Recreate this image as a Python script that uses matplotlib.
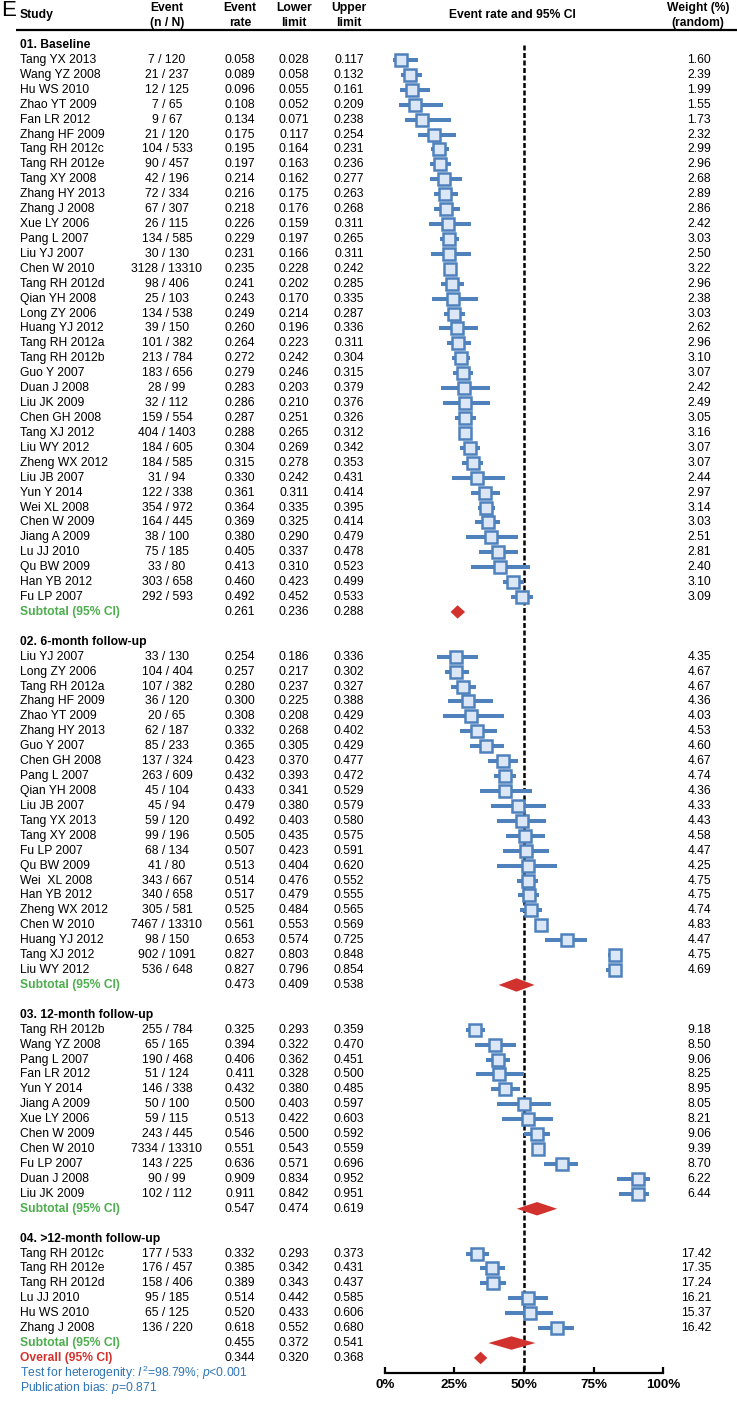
import matplotlib
matplotlib.use("Agg")
import matplotlib.pyplot as plt

plt.rcParams['font.family'] = ['Liberation Sans', 'DejaVu Sans']
plt.rcParams['mathtext.fontset'] = 'custom'
plt.rcParams['mathtext.rm'] = 'Liberation Sans'
plt.rcParams['mathtext.it'] = 'Liberation Sans:italic'

# ---- data ----
group_titles = ["01. Baseline", "02. 6-month follow-up", "03. 12-month follow-up", "04. >12-month follow-up"]

names_base = ["Tang YX 2013", "Wang YZ 2008", "Hu WS 2010", "Zhao YT 2009", "Fan LR 2012", "Zhang HF 2009",
              "Tang RH 2012c", "Tang RH 2012e", "Tang XY 2008", "Zhang HY 2013", "Zhang J 2008", "Xue LY 2006",
              "Pang L 2007", "Liu YJ 2007", "Chen W 2010", "Tang RH 2012d", "Qian YH 2008", "Long ZY 2006",
              "Huang YJ 2012", "Tang RH 2012a", "Tang RH 2012b", "Guo Y 2007", "Duan J 2008", "Liu JK 2009",
              "Chen GH 2008", "Tang XJ 2012", "Liu WY 2012", "Zheng WX 2012", "Liu JB 2007", "Yun Y 2014",
              "Wei XL 2008", "Chen W 2009", "Jiang A 2009", "Lu JJ 2010", "Qu BW 2009", "Han YB 2012", "Fu LP 2007"]
n_base = [7, 21, 12, 7, 9, 21, 104, 90, 42, 72, 67, 26, 134, 30, 3128, 98, 25, 134, 39, 101, 213, 183, 28, 32,
          159, 404, 184, 184, 31, 122, 354, 164, 38, 75, 33, 303, 292]
N_base = [120, 237, 125, 65, 67, 120, 533, 457, 196, 334, 307, 115, 585, 130, 13310, 406, 103, 538, 150, 382, 784,
          656, 99, 112, 554, 1403, 605, 585, 94, 338, 972, 445, 100, 185, 80, 658, 593]
rate_base = [0.058, 0.089, 0.096, 0.108, 0.134, 0.175, 0.195, 0.197, 0.214, 0.216, 0.218, 0.226, 0.229, 0.231,
             0.235, 0.241, 0.243, 0.249, 0.260, 0.264, 0.272, 0.279, 0.283, 0.286, 0.287, 0.288, 0.304, 0.315,
             0.330, 0.361, 0.364, 0.369, 0.380, 0.405, 0.413, 0.460, 0.492]
low_base = [0.028, 0.058, 0.055, 0.052, 0.071, 0.117, 0.164, 0.163, 0.162, 0.175, 0.176, 0.159, 0.197, 0.166,
            0.228, 0.202, 0.170, 0.214, 0.196, 0.223, 0.242, 0.246, 0.203, 0.210, 0.251, 0.265, 0.269, 0.278,
            0.242, 0.311, 0.335, 0.325, 0.290, 0.337, 0.310, 0.423, 0.452]
up_base = [0.117, 0.132, 0.161, 0.209, 0.238, 0.254, 0.231, 0.236, 0.277, 0.263, 0.268, 0.311, 0.265, 0.311,
           0.242, 0.285, 0.335, 0.287, 0.336, 0.311, 0.304, 0.315, 0.379, 0.376, 0.326, 0.312, 0.342, 0.353,
           0.431, 0.414, 0.395, 0.414, 0.479, 0.478, 0.523, 0.499, 0.533]
w_base = [1.60, 2.39, 1.99, 1.55, 1.73, 2.32, 2.99, 2.96, 2.68, 2.89, 2.86, 2.42, 3.03, 2.50, 3.22, 2.96, 2.38,
          3.03, 2.62, 2.96, 3.10, 3.07, 2.42, 2.49, 3.05, 3.16, 3.07, 3.07, 2.44, 2.97, 3.14, 3.03, 2.51, 2.81,
          2.40, 3.10, 3.09]

names_6m = ["Liu YJ 2007", "Long ZY 2006", "Tang RH 2012a", "Zhang HF 2009", "Zhao YT 2009", "Zhang HY 2013",
            "Guo Y 2007", "Chen GH 2008", "Pang L 2007", "Qian YH 2008", "Liu JB 2007", "Tang YX 2013",
            "Tang XY 2008", "Fu LP 2007", "Qu BW 2009", "Wei  XL 2008", "Han YB 2012", "Zheng WX 2012",
            "Chen W 2010", "Huang YJ 2012", "Tang XJ 2012", "Liu WY 2012"]
n_6m = [33, 104, 107, 36, 20, 62, 85, 137, 263, 45, 45, 59, 99, 68, 41, 343, 340, 305, 7467, 98, 902, 536]
N_6m = [130, 404, 382, 120, 65, 187, 233, 324, 609, 104, 94, 120, 196, 134, 80, 667, 658, 581, 13310, 150, 1091, 648]
rate_6m = [0.254, 0.257, 0.280, 0.300, 0.308, 0.332, 0.365, 0.423, 0.432, 0.433, 0.479, 0.492, 0.505, 0.507,
           0.513, 0.514, 0.517, 0.525, 0.561, 0.653, 0.827, 0.827]
low_6m = [0.186, 0.217, 0.237, 0.225, 0.208, 0.268, 0.305, 0.370, 0.393, 0.341, 0.380, 0.403, 0.435, 0.423,
          0.404, 0.476, 0.479, 0.484, 0.553, 0.574, 0.803, 0.796]
up_6m = [0.336, 0.302, 0.327, 0.388, 0.429, 0.402, 0.429, 0.477, 0.472, 0.529, 0.579, 0.580, 0.575, 0.591,
         0.620, 0.552, 0.555, 0.565, 0.569, 0.725, 0.848, 0.854]
w_6m = [4.35, 4.67, 4.67, 4.36, 4.03, 4.53, 4.60, 4.67, 4.74, 4.36, 4.33, 4.43, 4.58, 4.47, 4.25, 4.75, 4.75,
        4.74, 4.83, 4.47, 4.75, 4.69]

names_12m = ["Tang RH 2012b", "Wang YZ 2008", "Pang L 2007", "Fan LR 2012", "Yun Y 2014", "Jiang A 2009",
             "Xue LY 2006", "Chen W 2009", "Chen W 2010", "Fu LP 2007", "Duan J 2008", "Liu JK 2009"]
n_12m = [255, 65, 190, 51, 146, 50, 59, 243, 7334, 143, 90, 102]
N_12m = [784, 165, 468, 124, 338, 100, 115, 445, 13310, 225, 99, 112]
rate_12m = [0.325, 0.394, 0.406, 0.411, 0.432, 0.500, 0.513, 0.546, 0.551, 0.636, 0.909, 0.911]
low_12m = [0.293, 0.322, 0.362, 0.328, 0.380, 0.403, 0.422, 0.500, 0.543, 0.571, 0.834, 0.842]
up_12m = [0.359, 0.470, 0.451, 0.500, 0.485, 0.597, 0.603, 0.592, 0.559, 0.696, 0.952, 0.951]
w_12m = [9.18, 8.50, 9.06, 8.25, 8.95, 8.05, 8.21, 9.06, 9.39, 8.70, 6.22, 6.44]

names_gt12 = ["Tang RH 2012c", "Tang RH 2012e", "Tang RH 2012d", "Lu JJ 2010", "Hu WS 2010", "Zhang J 2008"]
n_gt12 = [177, 176, 158, 95, 65, 136]
N_gt12 = [533, 457, 406, 185, 125, 220]
rate_gt12 = [0.332, 0.385, 0.389, 0.514, 0.520, 0.618]
low_gt12 = [0.293, 0.342, 0.343, 0.442, 0.433, 0.552]
up_gt12 = [0.373, 0.431, 0.437, 0.585, 0.606, 0.680]
w_gt12 = [17.42, 17.35, 17.24, 16.21, 15.37, 16.42]

subtotals = [(0.261, 0.236, 0.288), (0.473, 0.409, 0.538), (0.547, 0.474, 0.619), (0.455, 0.372, 0.541)]
overall = (0.344, 0.320, 0.368)

tick_vals = [0, 0.25, 0.5, 0.75, 1.0]
tick_labels = ["0%", "25%", "50%", "75%", "100%"]

groups = [
    (names_base, n_base, N_base, rate_base, low_base, up_base, w_base),
    (names_6m, n_6m, N_6m, rate_6m, low_6m, up_6m, w_6m),
    (names_12m, n_12m, N_12m, rate_12m, low_12m, up_12m, w_12m),
    (names_gt12, n_gt12, N_gt12, rate_gt12, low_gt12, up_gt12, w_gt12),
]

# ---- layout ----
W, H = 737, 1402
Y0, PITCH = 45.0, 14.92
def py(r):
    return Y0 + PITCH * r

FS = 8.7
BLUE = "#4f81bd"
FACE = "#dbe7f6"
RED = "#d2322d"
GREEN = "#4cae4c"
TXTBLUE = "#2e75b6"
X_NAME, X_EV, X_RATE, X_LO, X_UP, X_W = 20, 167, 240, 294, 349, 711
FX0, FX1, AXIS_Y, F_TOP = 385, 663, 1373, 37

fig = plt.figure(figsize=(W / 100, H / 100), dpi=100)
ax = fig.add_axes([0, 0, 1, 1])
ax.set_xlim(0, W)
ax.set_ylim(H, 0)
ax.axis("off")

axf = fig.add_axes([FX0 / W, (H - AXIS_Y) / H, (FX1 - FX0) / W, (AXIS_Y - F_TOP) / H])
axf.set_xlim(0, 1)
axf.set_ylim((AXIS_Y - Y0) / PITCH, (F_TOP - Y0) / PITCH)
axf.patch.set_alpha(0)
for s in ["top", "right", "left"]:
    axf.spines[s].set_visible(False)
axf.spines["bottom"].set_linewidth(1.6)
axf.set_yticks([])
axf.set_xticks(tick_vals)
axf.set_xticklabels(tick_labels, fontsize=9.6, fontweight="bold")
axf.tick_params(axis="x", direction="in", length=4, width=1.6, pad=4)

# header
ax.text(1, 11, "E", fontsize=16, va="center", ha="left")
ax.text(X_NAME, 15, "Study", fontsize=FS, fontweight="bold", va="center")
for x, l1, l2 in [(X_EV, "Event", "(n / N)"), (X_RATE, "Event", "rate"), (X_LO, "Lower", "limit"),
                  (X_UP, "Upper", "limit"), (698, "Weight (%)", "(random)")]:
    ax.text(x, 8, l1, fontsize=FS, fontweight="bold", ha="center", va="center")
    ax.text(x, 23, l2, fontsize=FS, fontweight="bold", ha="center", va="center")
ax.text(512, 15, "Event rate and 95% CI", fontsize=FS, fontweight="bold", ha="center", va="center")
ax.plot([16, W], [30, 30], color="black", lw=1.6, solid_capstyle="butt")

def diamond(est, lo, hi, r, h):
    axf.fill([lo, est, hi, est], [r, r - h, r, r + h], color=RED, lw=0, zorder=4)

r = 0
for gi, (names, ns, Ns, rates, lows, ups, ws) in enumerate(groups):
    ax.text(X_NAME, py(r), group_titles[gi], fontsize=FS, fontweight="bold", va="center")
    r += 1
    rows = []
    for i in range(len(names)):
        y = py(r)
        ax.text(X_NAME, y, names[i], fontsize=FS, va="center")
        ax.text(X_EV, y, f"{ns[i]} / {Ns[i]}", fontsize=FS, va="center", ha="center")
        ax.text(X_RATE, y, f"{rates[i]:.3f}", fontsize=FS, va="center", ha="center")
        ax.text(X_LO, y, f"{lows[i]:.3f}", fontsize=FS, va="center", ha="center")
        ax.text(X_UP, y, f"{ups[i]:.3f}", fontsize=FS, va="center", ha="center")
        ax.text(X_W, y, f"{ws[i]:.2f}", fontsize=FS, va="center", ha="right")
        rows.append(r)
        r += 1
    axf.hlines(rows, lows, ups, color=BLUE, lw=2.9, zorder=2)
    axf.plot(rates, rows, ls="none", marker="s", ms=9.2, mfc=FACE, mec=BLUE, mew=1.8, zorder=3)
    est, lo, hi = subtotals[gi]
    y = py(r)
    ax.text(X_NAME, y, "Subtotal (95% CI)", fontsize=FS, fontweight="bold", color=GREEN, va="center")
    ax.text(X_RATE, y, f"{est:.3f}", fontsize=FS, va="center", ha="center")
    ax.text(X_LO, y, f"{lo:.3f}", fontsize=FS, va="center", ha="center")
    ax.text(X_UP, y, f"{hi:.3f}", fontsize=FS, va="center", ha="center")
    diamond(est, lo, hi, r, 0.45)
    r += 1
    if gi < len(groups) - 1:
        r += 1

est, lo, hi = overall
y = py(r)
ax.text(X_NAME, y, "Overall (95% CI)", fontsize=FS, fontweight="bold", color=RED, va="center")
ax.text(X_RATE, y, f"{est:.3f}", fontsize=FS, va="center", ha="center")
ax.text(X_LO, y, f"{lo:.3f}", fontsize=FS, va="center", ha="center")
ax.text(X_UP, y, f"{hi:.3f}", fontsize=FS, va="center", ha="center")
diamond(est, lo, hi, r, 0.42)
r += 1
ax.text(X_NAME, py(r), r"Test for heterogenity: $\it{I}^2$=98.79%; $\it{p}$<0.001", fontsize=FS,
        color=TXTBLUE, va="center")
r += 1
ax.text(X_NAME, py(r), r"Publication bias: $\it{p}$=0.871", fontsize=FS, color=TXTBLUE, va="center")

axf.plot([0.5, 0.5], [0, axf.get_ylim()[0]], color="black", lw=1.8, ls=(0, (2, 1)), zorder=1)

fig.savefig("out.png", dpi=100)
